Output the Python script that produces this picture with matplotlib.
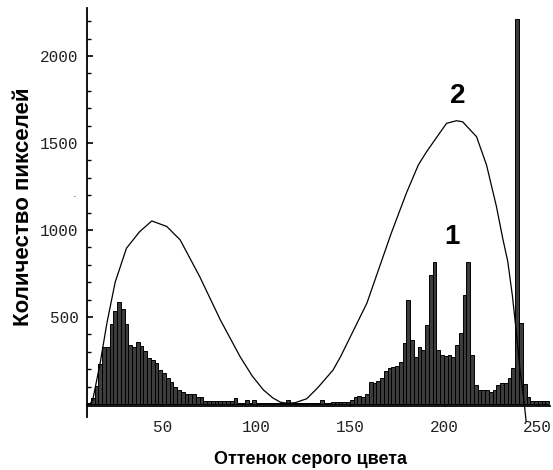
import matplotlib
matplotlib.use("Agg")
import matplotlib.pyplot as plt
import numpy as np

# histogram (1): bin start (gray level), bin width 2
bin_starts = list(range(10, 256, 2))
counts_left = [5, 35, 105, 230, 325, 325, 460, 535, 585, 545,      # 10..28
               460, 340, 330, 355, 335, 305, 265, 255, 235, 195,    # 30..48
               178, 150, 125, 100, 80, 70, 60, 58, 57, 42,          # 50..68
               42, 18, 18, 18, 18, 18, 18, 18, 18, 35,             # 70..88
               5, 5, 20, 5, 20, 5, 5, 5, 5, 5,                     # 90..108
               5, 5, 5, 20, 5, 5, 5, 5, 5, 5,                      # 110..128
               5, 5, 20, 5, 5, 10, 10, 10, 10, 10]                 # 130..148
counts_right = [25, 40, 45, 42, 60, 125, 118, 130, 150, 190,        # 150..168
                205, 210, 220, 240, 350, 600, 370, 270, 325, 310,  # 170..188
                455, 740, 815, 310, 280, 276, 282, 268, 339, 410,  # 190..208
                626, 815, 282, 110, 80, 80, 80, 70, 80, 109,       # 210..228
                122, 120, 150, 205, 2210, 465, 115, 40, 15, 15,    # 230..248
                15, 15, 15]                                        # 250..254
counts = counts_left + counts_right

# fitted curve (2)
curve_x = [11.5, 13, 17, 20.6, 25, 31, 38, 44.5, 52.5, 59.6, 70, 81, 91.5,
           98, 104, 109, 113, 117, 121, 127, 133, 141, 145, 159, 172, 180,
           186.4, 190.8, 201.4, 206.7, 210, 217.4, 222.7, 228, 231.5, 234,
           236.5, 238.5, 240.5, 242.5, 243.8]
curve_y = [0, 20, 235, 465, 700, 895, 990, 1052, 1020, 943, 732, 483, 272,
           160, 80, 34, 10, 3, 8, 30, 95, 195, 272, 579, 982, 1211,
           1374, 1450, 1613, 1628, 1622, 1536, 1374, 1134, 943, 820,
           620, 420, 200, 30, -100]

xticks = [50, 100, 150, 200, 250]
yticks = [500, 1000, 1500, 2000]

fig = plt.figure(figsize=(5.53, 4.70), dpi=100)
W, H = 553, 470
ax = fig.add_axes([87 / W, (H - 417) / H, (550 - 87) / W, (417 - 8) / H])

ax.bar(bin_starts[:len(counts)], counts, width=2, align='edge',
       color='#3c3c3c', edgecolor='black', linewidth=0.7, zorder=2)
ax.plot(curve_x, curve_y, color='black', linewidth=0.9, zorder=3, clip_on=False)

ax.set_xlim(10, 256.5)
ax.set_ylim(-75, 2276)

ax.spines['top'].set_visible(False)
ax.spines['right'].set_visible(False)
ax.spines['bottom'].set_position(('data', -10))
ax.spines['left'].set_linewidth(1.3)
ax.spines['bottom'].set_linewidth(1.3)

ax.set_xticks(xticks)
ax.set_yticks(yticks)
ax.set_yticks(np.arange(100, 2300, 100), minor=True)
ax.tick_params(axis='y', which='major', direction='in', length=4, width=1.2,
               pad=6, labelsize=11.5, labelcolor='#222222')
ax.tick_params(axis='y', which='minor', direction='in', length=3, width=1.0)
ax.tick_params(axis='x', which='major', direction='in', length=3, width=1.0,
               pad=10, labelsize=11.5, labelcolor='#222222')
for lab in ax.get_xticklabels() + ax.get_yticklabels():
    lab.set_family(['Liberation Mono', 'DejaVu Sans Mono'])

narrow = ['Liberation Sans Narrow', 'Liberation Sans', 'DejaVu Sans']
fig.text(311 / W, 1 - 459 / H, 'Оттенок серого цвета', ha='center', va='center',
         fontsize=13, fontweight='bold', family=narrow)
fig.text(24 / W, 1 - 207 / H, 'Количество пикселей', ha='center', va='center',
         rotation=90, fontsize=16, fontweight='bold',
         family=['Liberation Sans', 'DejaVu Sans'])
fig.text(458 / W, 1 - 96 / H, '2', ha='center', va='center',
         fontsize=20, fontweight='bold', family=narrow)
fig.text(452 / W, 1 - 237 / H, '1', ha='center', va='center',
         fontsize=20, fontweight='bold', family=narrow)
fig.text(75 / W, 1 - 194 / H, '.', ha='center', va='center', fontsize=8, color='#444444')

fig.savefig('out.png', dpi=100)
